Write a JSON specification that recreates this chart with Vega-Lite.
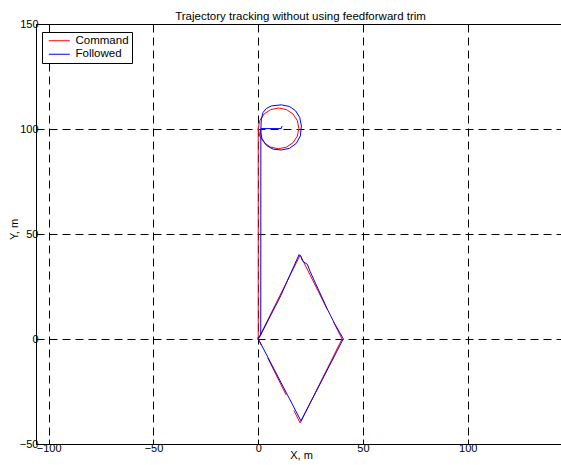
{
  "$schema": "https://vega.github.io/schema/vega-lite/v6.json",
  "autosize": {"type": "none"},
  "padding": {"left": 36, "top": 24, "right": 0, "bottom": 21},
  "width": 525,
  "height": 420,
  "title": {"text": "Trajectory tracking without using feedforward trim", "fontSize": 11.5, "font": "Liberation Sans", "fontWeight": "normal", "color": "black", "frame": "group", "anchor": "middle", "baseline": "alphabetic", "offset": 4, "dx": 2, "dy": 17},
  "config": {
    "view": {"stroke": null},
    "axis": {"labelFont": "Liberation Sans", "labelFontSize": 11, "labelColor": "black", "titleFont": "Liberation Sans", "titleFontSize": 11, "titleFontWeight": "normal", "titleColor": "black", "domainColor": "black", "domainWidth": 1, "tickColor": "black", "tickSize": -5, "tickWidth": 1, "gridColor": "black", "gridOpacity": 1, "gridDash": [8, 5], "gridWidth": 1, "labelOverlap": false, "labelFlush": false}
  },
  "datasets": {
    "cmd": [
      {"s": "Command", "g": 1, "o": 1, "x": 0, "y": 0},
      {"s": "Command", "g": 1, "o": 2, "x": 20, "y": 40},
      {"s": "Command", "g": 2, "o": 1, "x": 20, "y": 40},
      {"s": "Command", "g": 2, "o": 2, "x": 33, "y": 14},
      {"s": "Command", "g": 3, "o": 1, "x": 36, "y": 8},
      {"s": "Command", "g": 3, "o": 2, "x": 40, "y": 0},
      {"s": "Command", "g": 4, "o": 1, "x": 40, "y": 0},
      {"s": "Command", "g": 4, "o": 2, "x": 20, "y": -40},
      {"s": "Command", "g": 5, "o": 1, "x": 20, "y": -40},
      {"s": "Command", "g": 5, "o": 2, "x": 17, "y": -34},
      {"s": "Command", "g": 6, "o": 1, "x": 13.3, "y": -26.6},
      {"s": "Command", "g": 6, "o": 2, "x": 4.5, "y": -9},
      {"s": "Command", "g": 7, "o": 1, "x": 1.5, "y": -3},
      {"s": "Command", "g": 7, "o": 2, "x": 0, "y": 0},
      {"s": "Command", "g": 8, "o": 1, "x": 0, "y": 0},
      {"s": "Command", "g": 8, "o": 2, "x": 0, "y": 100.3},
      {"s": "Command", "g": 8, "o": 3, "x": 0.74, "y": 104.0},
      {"s": "Command", "g": 8, "o": 4, "x": 2.84, "y": 107.16},
      {"s": "Command", "g": 8, "o": 5, "x": 5.98, "y": 109.26},
      {"s": "Command", "g": 8, "o": 6, "x": 9.7, "y": 110.0},
      {"s": "Command", "g": 8, "o": 7, "x": 13.42, "y": 109.26},
      {"s": "Command", "g": 8, "o": 8, "x": 16.56, "y": 107.16},
      {"s": "Command", "g": 8, "o": 9, "x": 18.66, "y": 104.0},
      {"s": "Command", "g": 8, "o": 10, "x": 19.4, "y": 100.3},
      {"s": "Command", "g": 8, "o": 11, "x": 18.66, "y": 96.6},
      {"s": "Command", "g": 8, "o": 12, "x": 16.56, "y": 93.44},
      {"s": "Command", "g": 8, "o": 13, "x": 13.42, "y": 91.34},
      {"s": "Command", "g": 8, "o": 14, "x": 9.7, "y": 90.6},
      {"s": "Command", "g": 8, "o": 15, "x": 5.98, "y": 91.34},
      {"s": "Command", "g": 8, "o": 16, "x": 2.84, "y": 93.44},
      {"s": "Command", "g": 8, "o": 17, "x": 0.74, "y": 96.6},
      {"s": "Command", "g": 8, "o": 18, "x": 0, "y": 100.3}
    ],
    "fol": [
      {"s": "Followed", "o": 1, "x": -0.5, "y": 0.3},
      {"s": "Followed", "o": 2, "x": 0.8, "y": 1.2},
      {"s": "Followed", "o": 3, "x": 10.7, "y": 20.5},
      {"s": "Followed", "o": 4, "x": 19.5, "y": 40.2},
      {"s": "Followed", "o": 5, "x": 20.3, "y": 39.4},
      {"s": "Followed", "o": 6, "x": 21.2, "y": 37.1},
      {"s": "Followed", "o": 7, "x": 22.3, "y": 36.3},
      {"s": "Followed", "o": 8, "x": 23.5, "y": 35.5},
      {"s": "Followed", "o": 9, "x": 24.7, "y": 32.3},
      {"s": "Followed", "o": 10, "x": 32.8, "y": 14.6},
      {"s": "Followed", "o": 11, "x": 34.6, "y": 11.0},
      {"s": "Followed", "o": 12, "x": 36.3, "y": 7.6},
      {"s": "Followed", "o": 13, "x": 40.6, "y": 0.1},
      {"s": "Followed", "o": 14, "x": 30.5, "y": -19.5},
      {"s": "Followed", "o": 15, "x": 20.4, "y": -39.0},
      {"s": "Followed", "o": 16, "x": 0.06, "y": 0},
      {"s": "Followed", "o": 17, "x": 1.2, "y": 2},
      {"s": "Followed", "o": 18, "x": 1.25, "y": 100.2},
      {"s": "Followed", "o": 19, "x": 1.5, "y": 104.7},
      {"s": "Followed", "o": 20, "x": 2.3, "y": 107.9},
      {"s": "Followed", "o": 21, "x": 3.9, "y": 109.8},
      {"s": "Followed", "o": 22, "x": 6.3, "y": 111.0},
      {"s": "Followed", "o": 23, "x": 11.0, "y": 111.5},
      {"s": "Followed", "o": 24, "x": 15.0, "y": 110.7},
      {"s": "Followed", "o": 25, "x": 17.9, "y": 108.6},
      {"s": "Followed", "o": 26, "x": 19.8, "y": 105.5},
      {"s": "Followed", "o": 27, "x": 20.6, "y": 101.5},
      {"s": "Followed", "o": 28, "x": 20.1, "y": 96.7},
      {"s": "Followed", "o": 29, "x": 18.2, "y": 93.2},
      {"s": "Followed", "o": 30, "x": 15.0, "y": 90.8},
      {"s": "Followed", "o": 31, "x": 11.0, "y": 90.0},
      {"s": "Followed", "o": 32, "x": 7.1, "y": 90.4},
      {"s": "Followed", "o": 33, "x": 3.9, "y": 92.2},
      {"s": "Followed", "o": 34, "x": 1.8, "y": 95.4},
      {"s": "Followed", "o": 35, "x": 1.2, "y": 98.3},
      {"s": "Followed", "o": 36, "x": 1.25, "y": 100.2},
      {"s": "Followed", "o": 37, "x": 11.0, "y": 100.2},
      {"s": "Followed", "o": 38, "x": 11.3, "y": 101.2},
      {"s": "Followed", "o": 39, "x": 11.0, "y": 100.6}
    ]
  },
  "layer": [
    {
      "data": {"name": "cmd"},
      "mark": {"type": "line", "strokeWidth": 1, "clip": true},
      "encoding": {
        "x": {"field": "x", "type": "quantitative", "scale": {"domain": [-106.06, 144.5], "nice": false, "zero": false}, "axis": {"orient": "bottom", "values": [-100, -50, 0, 50, 100], "title": "X, m", "titleX": 265, "titleY": 14, "titleBaseline": "alphabetic", "titleAlign": "center", "labelPadding": 3}},
        "y": {"field": "y", "type": "quantitative", "scale": {"domain": [-50, 150], "nice": false, "zero": false}, "axis": {"orient": "left", "values": [-50, 0, 50, 100, 150], "title": "Y, m", "titleX": -18.7, "titleY": 205, "titleBaseline": "alphabetic", "titleAlign": "center", "labelPadding": 3}},
        "color": {"field": "s", "type": "nominal", "scale": {"domain": ["Command", "Followed"], "range": ["#ff0000", "#0000ff"]},
          "legend": {"orient": "none", "legendX": 6, "legendY": 8, "title": null, "symbolType": "M-0.55,0L5.45,0", "symbolSize": 49, "symbolStrokeWidth": 1, "labelFont": "Liberation Sans", "labelFontSize": 11.5, "labelColor": "black", "labelOffset": 19, "labelExpr": "datum.label + '\u00a0\u00a0'", "padding": 3, "rowPadding": 0.5, "fillColor": "white", "strokeColor": "black", "cornerRadius": 0}},
        "detail": {"field": "g", "type": "nominal"},
        "order": {"field": "o", "type": "quantitative"}
      }
    },
    {
      "data": {"name": "fol"},
      "mark": {"type": "line", "strokeWidth": 1, "clip": true},
      "encoding": {
        "x": {"field": "x", "type": "quantitative", "axis": {"orient": "top", "values": [-100, -50, 0, 50, 100], "labels": false, "grid": false, "title": null}},
        "y": {"field": "y", "type": "quantitative", "axis": null},
        "color": {"field": "s", "type": "nominal"},
        "order": {"field": "o", "type": "quantitative"}
      }
    }
  ],
  "resolve": {"axis": {"x": "independent", "y": "independent"}}
}
